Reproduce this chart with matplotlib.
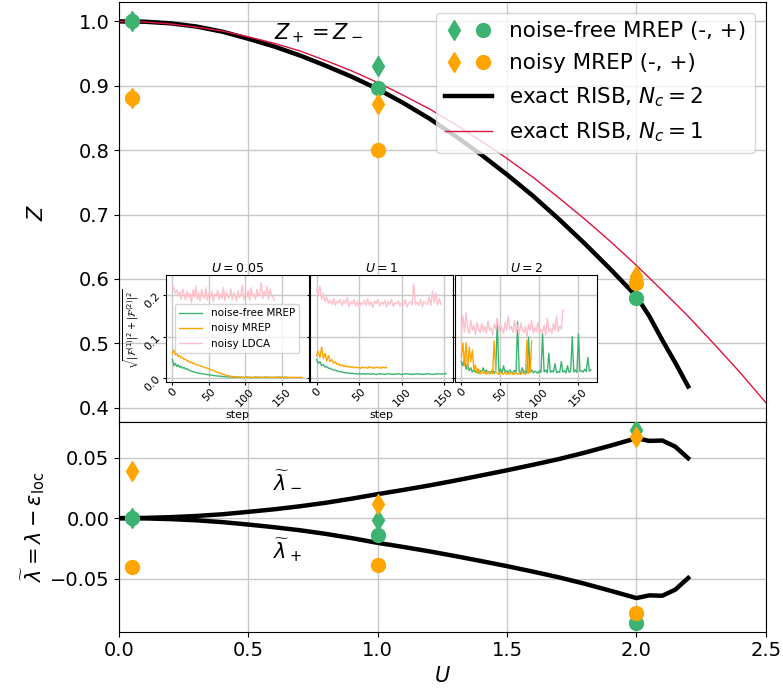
import numpy as np
import matplotlib
matplotlib.use("Agg")
import matplotlib.pyplot as plt
from matplotlib.legend_handler import HandlerTuple

# exact RISB curves
U_nc2 = [0.0, 0.1, 0.2, 0.3, 0.4, 0.5, 0.6, 0.7, 0.8, 0.9, 1.0, 1.1, 1.2, 1.3, 1.4,
         1.5, 1.6, 1.7, 1.8, 1.9, 2.0, 2.05, 2.1, 2.15, 2.2]
Z_nc2 = [1.0, 0.9995, 0.997, 0.992, 0.984, 0.973, 0.961, 0.947, 0.931, 0.914, 0.895,
         0.873, 0.849, 0.822, 0.793, 0.762, 0.729, 0.693, 0.655, 0.615, 0.573, 0.542,
         0.505, 0.470, 0.433]
lam_minus = [0.0, 0.0002, 0.0008, 0.0018, 0.0032, 0.0052, 0.0073, 0.0098, 0.0127, 0.0161,
             0.0198, 0.0233, 0.0270, 0.0310, 0.0352, 0.0395, 0.0440, 0.0487, 0.0540,
             0.0598, 0.0659, 0.0637, 0.0640, 0.0590, 0.0494]
lam_plus = [0.0, -0.0002, -0.0008, -0.0018, -0.0033, -0.0053, -0.0075, -0.0100, -0.0130,
            -0.0165, -0.0204, -0.0238, -0.0274, -0.0313, -0.0354, -0.0396, -0.0441,
            -0.0488, -0.0541, -0.0599, -0.0659, -0.0637, -0.0640, -0.0590, -0.0494]

U_nc1 = [0.0, 0.1, 0.2, 0.3, 0.4, 0.5, 0.6, 0.7, 0.8, 0.9, 1.0, 1.1, 1.2, 1.3, 1.4, 1.5,
         1.6, 1.7, 1.8, 1.9, 2.0, 2.1, 2.2, 2.3, 2.4, 2.5]
Z_nc1 = [1.0, 0.999, 0.996, 0.991, 0.985, 0.976, 0.966, 0.954, 0.939, 0.923, 0.905,
         0.885, 0.864, 0.840, 0.814, 0.787, 0.758, 0.726, 0.693, 0.658, 0.621, 0.582,
         0.542, 0.499, 0.455, 0.408]

# MREP points: (-) diamonds, (+) circles
U_pts = [0.05, 1.0, 2.0]
Z_minus_free = [1.0, 0.931, 0.600]
Z_plus_free = [1.0, 0.896, 0.571]
Z_minus_noisy = [0.881, 0.872, 0.604]
Z_plus_noisy = [0.881, 0.801, 0.593]
lamt_minus_free = [0.0, -0.0014, 0.0727]
lamt_plus_free = [0.0, -0.0143, -0.0865]
lamt_minus_noisy = [0.039, 0.0118, 0.0672]
lamt_plus_noisy = [-0.0407, -0.039, -0.0783]

# inset: convergence traces, every 2nd step
stride = 2
u005_free = [0.045, 0.030, 0.036, 0.028, 0.032, 0.026, 0.029, 0.024, 0.026, 0.022, 0.023,
             0.020, 0.019, 0.017, 0.016, 0.015, 0.014, 0.013, 0.012, 0.012, 0.011, 0.010,
             0.010, 0.009, 0.009, 0.008, 0.008, 0.007, 0.007, 0.006, 0.006, 0.005, 0.005,
             0.005, 0.004, 0.004, 0.004, 0.003, 0.003, 0.003, 0.003, 0.003, 0.002, 0.003,
             0.002, 0.002, 0.003, 0.002, 0.002, 0.002, 0.002, 0.003, 0.002, 0.002, 0.002,
             0.002, 0.002, 0.003, 0.002, 0.002, 0.002, 0.002, 0.002, 0.002, 0.003, 0.002,
             0.002, 0.002, 0.002, 0.002, 0.002, 0.002, 0.003, 0.002, 0.002, 0.002, 0.002,
             0.002, 0.002, 0.002]
u005_noisy = [0.060, 0.068, 0.056, 0.060, 0.052, 0.055, 0.049, 0.050, 0.045, 0.046, 0.041,
              0.042, 0.038, 0.039, 0.035, 0.036, 0.033, 0.033, 0.031, 0.030, 0.028, 0.028,
              0.026, 0.025, 0.024, 0.023, 0.021, 0.020, 0.019, 0.017, 0.016, 0.014, 0.013,
              0.012, 0.010, 0.009, 0.008, 0.007, 0.006, 0.005, 0.005, 0.004, 0.004, 0.003,
              0.003, 0.003, 0.002, 0.003, 0.002, 0.002, 0.002, 0.002, 0.003, 0.002, 0.002,
              0.002, 0.002, 0.002, 0.002, 0.003, 0.002, 0.002, 0.002, 0.002, 0.002, 0.002,
              0.003, 0.002, 0.002, 0.002, 0.002, 0.002, 0.002, 0.002, 0.003, 0.002, 0.002,
              0.002, 0.002, 0.002, 0.002, 0.002, 0.002, 0.003, 0.002, 0.002, 0.002, 0.002,
              0.002, 0.002]
u005_ldca = [0.226, 0.215, 0.205, 0.212, 0.198, 0.208, 0.190, 0.215, 0.200, 0.188, 0.210,
             0.195, 0.205, 0.182, 0.212, 0.196, 0.222, 0.190, 0.205, 0.186, 0.214, 0.199,
             0.192, 0.218, 0.188, 0.205, 0.196, 0.210, 0.185, 0.203, 0.198, 0.212, 0.190,
             0.204, 0.192, 0.219, 0.187, 0.208, 0.197, 0.193, 0.215, 0.189, 0.206, 0.200,
             0.186, 0.211, 0.194, 0.203, 0.224, 0.190, 0.207, 0.195, 0.212, 0.188, 0.218,
             0.198, 0.203, 0.190, 0.214, 0.197, 0.206, 0.230, 0.192, 0.210, 0.199, 0.222,
             0.190, 0.215, 0.202, 0.196, 0.188]

u1_free = [0.045, 0.036, 0.040, 0.030, 0.033, 0.027, 0.028, 0.024, 0.024, 0.021, 0.020,
           0.019, 0.018, 0.016, 0.016, 0.015, 0.014, 0.013, 0.013, 0.012, 0.012, 0.012,
           0.011, 0.011, 0.010, 0.011, 0.010, 0.011, 0.010, 0.010, 0.011, 0.010, 0.010,
           0.011, 0.010, 0.009, 0.010, 0.011, 0.010, 0.010, 0.009, 0.010, 0.011, 0.010,
           0.010, 0.009, 0.010, 0.010, 0.011, 0.010, 0.009, 0.010, 0.010, 0.011, 0.010,
           0.010, 0.009, 0.010, 0.010, 0.011, 0.010, 0.010, 0.009, 0.010, 0.010, 0.011,
           0.010, 0.010, 0.009, 0.010, 0.010, 0.011, 0.010, 0.010, 0.010, 0.011, 0.011]
u1_noisy = [0.055, 0.065, 0.050, 0.075, 0.048, 0.060, 0.042, 0.055, 0.040, 0.045, 0.036,
            0.040, 0.033, 0.035, 0.030, 0.032, 0.028, 0.030, 0.027, 0.029, 0.026, 0.028,
            0.025, 0.027, 0.025, 0.026, 0.024, 0.027, 0.025, 0.026, 0.024, 0.028, 0.025,
            0.026, 0.024, 0.027, 0.025, 0.026, 0.024, 0.027, 0.025, 0.026]
u1_ldca = [0.215, 0.200, 0.222, 0.190, 0.205, 0.185, 0.195, 0.180, 0.188, 0.178, 0.192,
           0.176, 0.186, 0.182, 0.190, 0.175, 0.188, 0.180, 0.195, 0.172, 0.184, 0.179,
           0.190, 0.174, 0.186, 0.170, 0.182, 0.178, 0.188, 0.175, 0.192, 0.176, 0.184,
           0.170, 0.186, 0.180, 0.190, 0.174, 0.183, 0.178, 0.188, 0.172, 0.185, 0.177,
           0.190, 0.173, 0.182, 0.179, 0.186, 0.174, 0.184, 0.176, 0.190, 0.172, 0.180,
           0.185, 0.176, 0.227, 0.178, 0.184, 0.175, 0.190, 0.172, 0.186, 0.180, 0.178,
           0.196, 0.175, 0.210, 0.182, 0.205, 0.176, 0.192, 0.178]

u2_free = [0.040, 0.030, 0.048, 0.022, 0.035, 0.018, 0.025, 0.015, 0.020, 0.014, 0.022,
           0.012, 0.018, 0.015, 0.025, 0.013, 0.020, 0.012, 0.016, 0.014, 0.020, 0.012,
           0.018, 0.141, 0.015, 0.022, 0.013, 0.030, 0.014, 0.018, 0.012, 0.020, 0.015,
           0.013, 0.019, 0.014, 0.136, 0.016, 0.013, 0.025, 0.014, 0.018, 0.012, 0.099,
           0.014, 0.020, 0.013, 0.017, 0.015, 0.012, 0.018, 0.014, 0.107, 0.015, 0.020,
           0.013, 0.060, 0.014, 0.018, 0.015, 0.035, 0.013, 0.016, 0.014, 0.040, 0.015,
           0.018, 0.013, 0.030, 0.014, 0.017, 0.100, 0.015, 0.020, 0.014, 0.107, 0.016,
           0.018, 0.015, 0.022, 0.016, 0.050, 0.017, 0.020]
u2_noisy = [0.050, 0.085, 0.030, 0.086, 0.022, 0.075, 0.040, 0.068, 0.020, 0.032, 0.012,
            0.022, 0.010, 0.018, 0.012, 0.015, 0.009, 0.016, 0.011, 0.013, 0.010, 0.090,
            0.014, 0.012, 0.009, 0.016, 0.011, 0.010, 0.014, 0.009, 0.012, 0.010, 0.015,
            0.009, 0.011, 0.013, 0.010, 0.012, 0.009, 0.014, 0.011, 0.010, 0.092, 0.012,
            0.015, 0.090]
u2_ldca = [0.105, 0.150, 0.112, 0.158, 0.120, 0.108, 0.140, 0.115, 0.128, 0.105, 0.135,
           0.118, 0.110, 0.132, 0.112, 0.125, 0.108, 0.138, 0.115, 0.122, 0.105, 0.130,
           0.118, 0.145, 0.112, 0.128, 0.120, 0.108, 0.135, 0.115, 0.150, 0.118, 0.125,
           0.110, 0.140, 0.112, 0.128, 0.105, 0.133, 0.118, 0.110, 0.125, 0.100, 0.130,
           0.115, 0.140, 0.108, 0.122, 0.112, 0.135, 0.105, 0.118, 0.110, 0.128, 0.102,
           0.145, 0.112, 0.120, 0.108, 0.132, 0.115, 0.150, 0.112, 0.125, 0.118, 0.165]

inset_titles = ["$U = 0.05$", "$U = 1$", "$U = 2$"]
inset_data = [(u005_free, u005_noisy, u005_ldca),
              (u1_free, u1_noisy, u1_ldca),
              (u2_free, u2_noisy, u2_ldca)]

green = "mediumseagreen"
orange = "orange"

fig = plt.figure(figsize=(7.83, 6.95), dpi=100)
ax1 = fig.add_axes([0.152, 0.393, 0.826, 0.604])
ax2 = fig.add_axes([0.152, 0.091, 0.826, 0.302], sharex=ax1)

ms = 10
# top panel: quasiparticle weight
ax1.plot(U_nc2, Z_nc2, color="black", lw=3.2, zorder=2)
ax1.plot(U_nc1, Z_nc1, color="crimson", lw=1.0, zorder=2)
h_fd, = ax1.plot(U_pts, Z_minus_free, "d", color=green, ms=ms, zorder=3)
h_fo, = ax1.plot(U_pts, Z_plus_free, "o", color=green, ms=ms, zorder=3)
h_nd, = ax1.plot(U_pts, Z_minus_noisy, "d", color=orange, ms=ms, zorder=3)
h_no, = ax1.plot(U_pts, Z_plus_noisy, "o", color=orange, ms=ms, zorder=3)
h_2, = ax1.plot([], [], color="black", lw=3.2)
h_1, = ax1.plot([], [], color="crimson", lw=1.0)

ax1.text(0.6, 0.982, "$Z_+ = Z_-$", fontsize=15, va="center")
ax1.set_ylim(0.378, 1.03)
ax1.set_yticks([0.4, 0.5, 0.6, 0.7, 0.8, 0.9, 1.0])
ax1.set_ylabel("$Z$", fontsize=15)
ax1.grid(True, color="#c8c8c8", lw=1)
ax1.tick_params(labelsize=14, labelbottom=False)
ax1.legend([(h_fd, h_fo), (h_nd, h_no), h_2, h_1],
           ["noise-free MREP (-, +)", "noisy MREP (-, +)",
            "exact RISB, $N_c = 2$", "exact RISB, $N_c = 1$"],
           handler_map={tuple: HandlerTuple(ndivide=None, pad=0.5)},
           loc="upper right", fontsize=15.5, handlelength=2.2, numpoints=1,
           borderaxespad=0.5, labelspacing=0.55)

# bottom panel: shifted eigenvalues
ax2.plot(U_nc2, lam_minus, color="black", lw=3.2, zorder=2)
ax2.plot(U_nc2, lam_plus, color="black", lw=3.2, zorder=2)
ax2.plot(U_pts, lamt_minus_free, "d", color=green, ms=ms, zorder=3)
ax2.plot(U_pts, lamt_plus_free, "o", color=green, ms=ms, zorder=3)
ax2.plot(U_pts, lamt_minus_noisy, "d", color=orange, ms=ms, zorder=3)
ax2.plot(U_pts, lamt_plus_noisy, "o", color=orange, ms=ms, zorder=3)
ax2.text(0.595, 0.031, r"$\widetilde{\lambda}_-$", fontsize=15, va="center")
ax2.text(0.595, -0.026, r"$\widetilde{\lambda}_+$", fontsize=15, va="center")
ax2.set_ylim(-0.0937, 0.0794)
ax2.set_yticks([-0.05, 0.0, 0.05])
ax2.set_xlim(0, 2.5)
ax2.set_xticks([0.0, 0.5, 1.0, 1.5, 2.0, 2.5])
ax2.set_xlabel("$U$", fontsize=15)
ax2.set_ylabel(r"$\widetilde{\lambda} = \lambda - \varepsilon_{\rm loc}$", fontsize=15)
ax2.grid(True, color="#c8c8c8", lw=1)
ax2.tick_params(labelsize=14)
ax1.yaxis.set_label_coords(-0.112, 0.5)
ax2.yaxis.set_label_coords(-0.112, 0.5)

# inset: convergence of the three runs
inset_left = [0.212, 0.396, 0.581]
for i, (free, noisy, ldca) in enumerate(inset_data):
    ax = fig.add_axes([inset_left[i], 0.450, 0.182, 0.155])
    ax.plot(np.arange(len(free)) * stride, free, color=green, lw=1, label="noise-free MREP")
    ax.plot(np.arange(len(noisy)) * stride, noisy, color=orange, lw=1, label="noisy MREP")
    ax.plot(np.arange(len(ldca)) * stride, ldca, color="pink", lw=1, label="noisy LDCA")
    ax.set_ylim(-0.0097, 0.25)
    ax.set_yticks([0.0, 0.1, 0.2])
    ax.set_xticks([0, 50, 100, 150])
    ax.grid(True, color="#c8c8c8", lw=1)
    ax.set_title(inset_titles[i], fontsize=9, pad=2)
    ax.set_xlabel("step", fontsize=8, labelpad=1)
    ax.tick_params(labelsize=8, pad=1, length=2)
    for lab in ax.get_xticklabels():
        lab.set_rotation(45)
    if i == 0:
        ax.set_ylabel(r"$\sqrt{|\mathcal{F}^{(1)}|^2 + |\mathcal{F}^{(2)}|^2}$", fontsize=7, labelpad=1)
        for lab in ax.get_yticklabels():
            lab.set_rotation(45)
        ax.legend(loc="center", fontsize=7.5, handlelength=2.2)
    else:
        ax.tick_params(labelleft=False)

fig.savefig("out.png", dpi=100)
